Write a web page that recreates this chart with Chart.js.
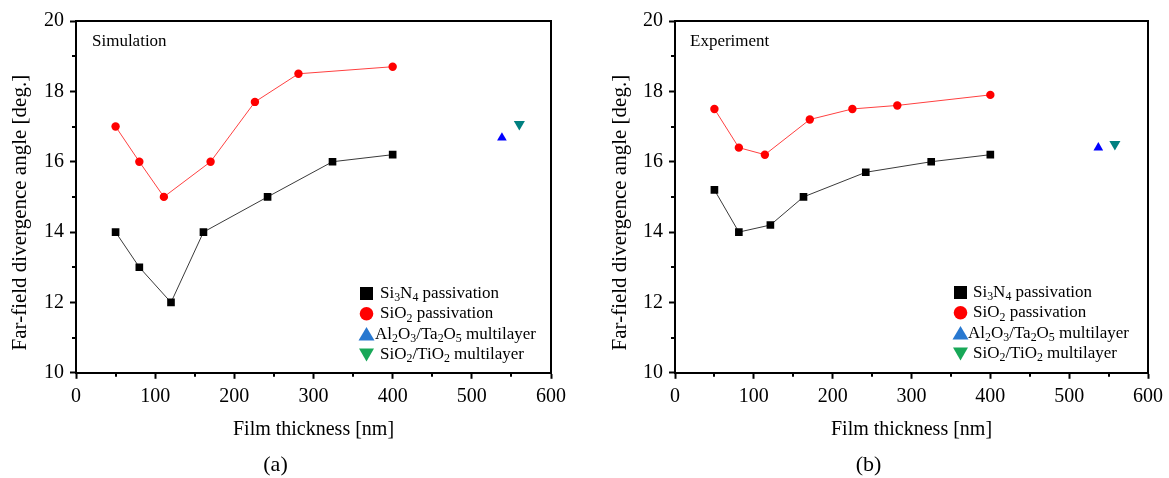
<!DOCTYPE html>
<html><head><meta charset="utf-8">
<script src="https://cdn.jsdelivr.net/npm/chart.js@4/dist/chart.umd.min.js"></script>
<style>
body{margin:0;background:#fff;width:1169px;height:478px;overflow:hidden;position:relative}
#ca{position:absolute;left:0;top:0}
#cb{position:absolute;left:585px;top:0}
</style></head><body>
<canvas id="ca" width="585" height="478"></canvas>
<canvas id="cb" width="584" height="478"></canvas>
<script>
// ---- data ----
const simSi3N4X = [50, 80, 120, 161, 242, 324, 400];
const simSi3N4Y = [14, 13, 12, 14, 15, 16, 16.2];
const simSiO2X  = [50, 80, 111, 170, 226, 281, 400];
const simSiO2Y  = [17, 16, 15, 16, 17.7, 18.5, 18.7];
const simAlTaX  = [538];  const simAlTaY = [16.68];
const simSiTiX  = [560];  const simSiTiY = [17.07];

const expSi3N4X = [50, 81, 121, 163, 242, 325, 400];
const expSi3N4Y = [15.2, 14, 14.2, 15, 15.7, 16, 16.2];
const expSiO2X  = [50, 81, 114, 171, 225, 282, 400];
const expSiO2Y  = [17.5, 16.4, 16.2, 17.2, 17.5, 17.6, 17.9];
const expAlTaX  = [537];  const expAlTaY = [16.4];
const expSiTiX  = [558];  const expSiTiY = [16.5];

const seriesLabels = ['Si_3N_4 passivation', 'SiO_2 passivation', 'Al_2O_3/Ta_2O_5 multilayer', 'SiO_2/TiO_2 multilayer'];
const xMinorTicks = [50, 150, 250, 350, 450, 550];
const yMinorTicks = [11, 13, 15, 17, 19];
const xTitle = 'Film thickness [nm]';
const yTitle = 'Far-field divergence angle [deg.]';

const F = '"Liberation Serif", "Times New Roman", serif';
const pts = (xs, ys) => xs.map((x, i) => ({x: x, y: ys[i]}));

function drawRich(ctx, s, x, y, size) {
  const parts = s.split(/(_\d)/);
  for (const p of parts) {
    if (!p) continue;
    if (p[0] === '_') {
      ctx.font = (size * 0.7) + 'px ' + F;
      ctx.fillText(p[1], x, y + size * 0.28);
      x += ctx.measureText(p[1]).width;
    } else {
      ctx.font = size + 'px ' + F;
      ctx.fillText(p, x, y);
      x += ctx.measureText(p).width;
    }
  }
}

const deco = {
  id: 'deco',
  afterDraw(chart, args, o) {
    const {ctx, chartArea: ca} = chart;
    const x = chart.scales.x, y = chart.scales.y;
    ctx.save();
    ctx.strokeStyle = '#000'; ctx.lineWidth = 2;
    ctx.beginPath();
    ctx.moveTo(ca.left - 1, ca.top); ctx.lineTo(ca.right, ca.top); ctx.lineTo(ca.right, ca.bottom + 1);
    ctx.stroke();
    ctx.beginPath();
    for (const v of xMinorTicks) { const px = Math.round(x.getPixelForValue(v)); ctx.moveTo(px, ca.bottom); ctx.lineTo(px, ca.bottom + 4); }
    for (const v of yMinorTicks) { const py = Math.round(y.getPixelForValue(v)); ctx.moveTo(ca.left, py); ctx.lineTo(ca.left - 4, py); }
    ctx.stroke();
    ctx.fillStyle = '#000'; ctx.textBaseline = 'middle'; ctx.textAlign = 'left';
    ctx.font = '17px ' + F;
    ctx.fillText(o.note, o.noteX, o.noteY);
    // legend
    const mx = o.lx, step = 20.3;
    const cols = ['#000', '#ff0000', '#2878d0', '#18a858'];
    for (let i = 0; i < 4; i++) {
      const cy = o.ly + i * step;
      ctx.fillStyle = cols[i];
      ctx.beginPath();
      if (i === 0) ctx.rect(mx - 6.5, cy - 6.5, 13, 13);
      else if (i === 1) ctx.arc(mx, cy, 6.8, 0, Math.PI * 2);
      else if (i === 2) { ctx.moveTo(mx, cy - 7); ctx.lineTo(mx + 8, cy + 6.5); ctx.lineTo(mx - 8, cy + 6.5); ctx.closePath(); }
      else { ctx.moveTo(mx - 7.5, cy - 6); ctx.lineTo(mx + 7.5, cy - 6); ctx.lineTo(mx, cy + 7); ctx.closePath(); }
      ctx.fill();
      ctx.fillStyle = '#000';
      drawRich(ctx, seriesLabels[i], o.tx - (i === 2 ? 5 : 0), cy, 17);
    }
    ctx.restore();
  }
};

function makeChart(id, d, o) {
  return new Chart(document.getElementById(id), {
    type: 'scatter',
    data: { datasets: [
      {label: seriesLabels[0], data: pts(d.ax, d.ay), showLine: true, borderColor: '#3a3a3a', borderWidth: 1,
       pointStyle: 'rect', pointRadius: 5.4, pointBackgroundColor: '#000', pointBorderWidth: 0},
      {label: seriesLabels[1], data: pts(d.bx, d.by), showLine: true, borderColor: '#ff4040', borderWidth: 1,
       pointStyle: 'circle', pointRadius: 4.2, pointBackgroundColor: '#ff0000', pointBorderWidth: 0},
      {label: seriesLabels[2], data: pts(d.cx, d.cy), showLine: false,
       pointStyle: 'triangle', pointRadius: 5.6, pointBackgroundColor: '#0000ff', pointBorderWidth: 0},
      {label: seriesLabels[3], data: pts(d.ex, d.ey), showLine: false,
       pointStyle: 'triangle', pointRotation: 180, pointRadius: 6.4, pointBackgroundColor: '#008080', pointBorderWidth: 0}
    ]},
    options: {
      responsive: false, animation: false, devicePixelRatio: 1,
      layout: {autoPadding: false, padding: {left: 0, top: 21, right: o.padR, bottom: 0}},
      plugins: {
        legend: {display: false}, tooltip: {enabled: false},
        title: {display: true, position: 'bottom', text: o.panel, color: '#000',
                font: {family: F, size: 22, weight: 'normal'}, padding: {top: 0, bottom: 0}},
        deco: o.deco
      },
      scales: {
        x: {type: 'linear', min: 0, max: 600,
            afterFit: s => { s.height = 78.8; },
            ticks: {stepSize: 100, color: '#000', font: {family: F, size: 20}, padding: 6, maxRotation: 0, autoSkip: false},
            grid: {display: true, drawOnChartArea: false, drawTicks: true, tickLength: 6, tickWidth: 2, tickColor: '#000'},
            border: {display: true, color: '#000', width: 2},
            title: {display: true, text: xTitle, color: '#000', font: {family: F, size: 20}, padding: {top: 0, bottom: 9.8}}},
        y: {type: 'linear', min: 10, max: 20,
            afterFit: s => { s.width = o.yW; },
            ticks: {stepSize: 2, color: '#000', font: {family: F, size: 20}, padding: 6},
            grid: {display: true, drawOnChartArea: false, drawTicks: true, tickLength: 6, tickWidth: 2, tickColor: '#000'},
            border: {display: true, color: '#000', width: 2},
            title: {display: true, text: yTitle + '      ', color: '#000', font: {family: F, size: 21}, padding: {top: o.yPad, bottom: 0}}}
      }
    },
    plugins: [deco]
  });
}

makeChart('ca',
  {ax: simSi3N4X, ay: simSi3N4Y, bx: simSiO2X, by: simSiO2Y, cx: simAlTaX, cy: simAlTaY, ex: simSiTiX, ey: simSiTiY},
  {padR: 34, yW: 76, yPad: 7.4, panel: '(a)',
   deco: {note: 'Simulation', noteX: 92, noteY: 42, lx: 366.5, ly: 293.5, tx: 380}});
makeChart('cb',
  {ax: expSi3N4X, ay: expSi3N4Y, bx: expSiO2X, by: expSiO2Y, cx: expAlTaX, cy: expAlTaY, ex: expSiTiX, ey: expSiTiY},
  {padR: 17, yW: 90, yPad: 22.4, panel: '(b)',
   deco: {note: 'Experiment', noteX: 105, noteY: 42, lx: 375.5, ly: 292.5, tx: 388}});
</script>
</body></html>
